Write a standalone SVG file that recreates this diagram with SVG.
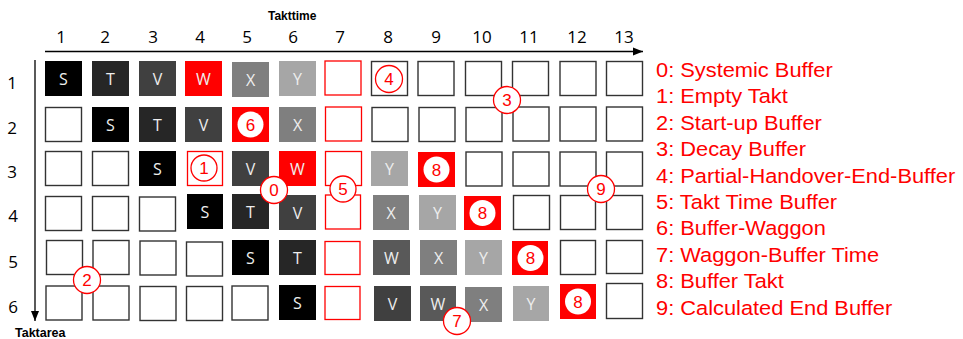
<svg xmlns="http://www.w3.org/2000/svg" width="963" height="339" viewBox="0 0 963 339">
<style>
.e{fill:#fff;stroke:#333;stroke-width:1.4}
.r{fill:#fff;stroke:#ff0000;stroke-width:1.3}
.rf{fill:#ff0000}
.S{fill:#000}.T{fill:#262626}.V{fill:#404040}.W{fill:#595959}.X{fill:#7f7f7f}.Y{fill:#a6a6a6}
.lt{font-family:"Open Sans","Liberation Sans",sans-serif;font-size:16px;fill:#eeeeee;text-anchor:middle}
.ax{font-family:"Open Sans","Liberation Sans",sans-serif;font-size:17px;fill:#000;text-anchor:middle}
.bold{font-family:"Liberation Sans",Arial,sans-serif;font-size:12px;font-weight:bold;fill:#000}
.ca{fill:#fff;stroke:#ff0000;stroke-width:1.3}
.cw{fill:#fff}
.cn{font-family:"Liberation Sans",Arial,sans-serif;font-size:17px;fill:#ff0000;text-anchor:middle}
.lg{font-family:"Liberation Sans",Arial,sans-serif;font-size:19.5px;fill:#ff0000}
</style>
<defs>
<marker id="ah" viewBox="0 0 10 10" refX="10" refY="5" markerWidth="10" markerHeight="10" markerUnits="userSpaceOnUse" orient="auto">
<path d="M0,1 L10,5 L0,9 Z" fill="#000"/>
</marker>
</defs>

<g id="axes">
<line x1="45" y1="51.5" x2="643" y2="51.5" stroke="#000" stroke-width="1.3" marker-end="url(#ah)"/>
<line x1="35" y1="60" x2="35" y2="321" stroke="#000" stroke-width="1.3" marker-end="url(#ah)"/>
<text class="bold" x="268" y="20">Takttime</text>
<text class="bold" x="15" y="336.5" style="font-size:12.5px">Taktarea</text>
</g>

<g id="col-labels">
<text class="ax" x="61" y="43">1</text>
<text class="ax" x="105" y="43">2</text>
<text class="ax" x="153" y="43">3</text>
<text class="ax" x="200" y="43">4</text>
<text class="ax" x="247" y="43">5</text>
<text class="ax" x="293" y="43">6</text>
<text class="ax" x="340" y="43">7</text>
<text class="ax" x="388" y="43">8</text>
<text class="ax" x="436" y="43">9</text>
<text class="ax" x="482" y="43">10</text>
<text class="ax" x="529" y="43">11</text>
<text class="ax" x="577" y="43">12</text>
<text class="ax" x="624" y="43">13</text>
</g>
<g id="row-labels">
<text class="ax" x="12" y="89">1</text>
<text class="ax" x="12" y="134">2</text>
<text class="ax" x="12" y="178">3</text>
<text class="ax" x="13" y="222">4</text>
<text class="ax" x="13" y="268">5</text>
<text class="ax" x="13" y="313">6</text>
</g>

<!-- Row 1 -->
<g id="r1c1"><rect class="S" x="45" y="61" width="37" height="35"/><text class="lt" x="63.5" y="84.5">S</text></g>
<g id="r1c2"><rect class="T" x="92" y="61" width="37" height="35"/><text class="lt" x="110.5" y="84.5">T</text></g>
<g id="r1c3"><rect class="V" x="139" y="61" width="37" height="35"/><text class="lt" x="157.5" y="84.5">V</text></g>
<g id="r1c4"><rect class="rf" x="185" y="61" width="37" height="35"/><text class="lt" x="203.5" y="84.5">W</text></g>
<g id="r1c5"><rect class="X" x="232" y="62" width="37" height="35"/><text class="lt" x="250.5" y="85.5">X</text></g>
<g id="r1c6"><rect class="Y" x="279" y="61" width="37" height="35"/><text class="lt" x="297.5" y="84.5">Y</text></g>
<g id="r1c7"><rect class="r" x="325" y="61" width="36" height="34"/></g>
<g id="r1c8"><rect class="e" x="371.5" y="61.5" width="36" height="34"/></g>
<g id="r1c9"><rect class="e" x="418" y="61.5" width="36" height="34"/></g>
<g id="r1c10"><rect class="e" x="465.5" y="61.5" width="36" height="34"/></g>
<g id="r1c11"><rect class="e" x="512.5" y="61.5" width="36" height="34"/></g>
<g id="r1c12"><rect class="e" x="560" y="61.5" width="36" height="34"/></g>
<g id="r1c13"><rect class="e" x="606.5" y="61.5" width="36" height="34"/></g>

<!-- Row 2 -->
<g id="r2c1"><rect class="e" x="45.5" y="107.5" width="36" height="34"/></g>
<g id="r2c2"><rect class="S" x="92" y="107" width="37" height="35"/><text class="lt" x="110.5" y="130.5">S</text></g>
<g id="r2c3"><rect class="T" x="139" y="107" width="37" height="35"/><text class="lt" x="157.5" y="130.5">T</text></g>
<g id="r2c4"><rect class="V" x="185" y="107" width="37" height="35"/><text class="lt" x="203.5" y="130.5">V</text></g>
<g id="r2c5"><rect class="rf" x="232" y="107" width="37" height="35"/><circle class="cw" cx="250.5" cy="124.5" r="13"/><text class="cn" x="250.5" y="130.5">6</text></g>
<g id="r2c6"><rect class="X" x="279" y="107" width="37" height="35"/><text class="lt" x="297.5" y="130.5">X</text></g>
<g id="r2c7"><rect class="r" x="325.5" y="107" width="36" height="34"/></g>
<g id="r2c8"><rect class="e" x="372" y="107.5" width="36" height="34"/></g>
<g id="r2c9"><rect class="e" x="419" y="107.5" width="36" height="34"/></g>
<g id="r2c10"><rect class="e" x="466" y="107.5" width="36" height="34"/></g>
<g id="r2c11"><rect class="e" x="513" y="107" width="36" height="34"/></g>
<g id="r2c12"><rect class="e" x="560" y="107" width="36" height="34"/></g>
<g id="r2c13"><rect class="e" x="606.5" y="107" width="36" height="34"/></g>

<!-- Row 3 -->
<g id="r3c1"><rect class="e" x="45.5" y="151.5" width="36" height="34"/></g>
<g id="r3c2"><rect class="e" x="92.5" y="151.5" width="36" height="34"/></g>
<g id="r3c3"><rect class="S" x="139" y="151" width="37" height="35"/><text class="lt" x="157.5" y="174.5">S</text></g>
<g id="r3c4"><rect class="r" x="187.5" y="151.5" width="35" height="34"/></g>
<g id="r3c5"><rect class="V" x="232" y="151" width="37" height="35"/><text class="lt" x="250.5" y="174.5">V</text></g>
<g id="r3c6"><rect class="rf" x="279" y="151" width="37" height="35"/><text class="lt" x="297.5" y="174.5">W</text></g>
<g id="r3c7"><rect class="r" x="325.5" y="151.5" width="36" height="34"/></g>
<g id="r3c8"><rect class="Y" x="371" y="151" width="37" height="35"/><text class="lt" x="389.5" y="174.5">Y</text></g>
<g id="r3c9"><rect class="rf" x="418" y="152" width="37" height="35"/><circle class="cw" cx="436.5" cy="169.5" r="13"/><text class="cn" x="436.5" y="175.5">8</text></g>
<g id="r3c10"><rect class="e" x="466" y="152" width="36" height="34"/></g>
<g id="r3c11"><rect class="e" x="513" y="152" width="36" height="34"/></g>
<g id="r3c12"><rect class="e" x="560" y="152" width="36" height="34"/></g>
<g id="r3c13"><rect class="e" x="606.5" y="152" width="36" height="34"/></g>

<!-- Row 4 -->
<g id="r4c1"><rect class="e" x="45.5" y="196.5" width="36" height="34"/></g>
<g id="r4c2"><rect class="e" x="92.5" y="196.5" width="36" height="34"/></g>
<g id="r4c3"><rect class="e" x="139.5" y="197" width="36" height="34"/></g>
<g id="r4c4"><rect class="S" x="187" y="194" width="36" height="35"/><text class="lt" x="205" y="217.5">S</text></g>
<g id="r4c5"><rect class="T" x="232" y="194" width="37" height="35"/><text class="lt" x="250.5" y="217.5">T</text></g>
<g id="r4c6"><rect class="V" x="279" y="195" width="37" height="35"/><text class="lt" x="297.5" y="218.5">V</text></g>
<g id="r4c7"><rect class="r" x="325.5" y="195" width="35" height="34"/></g>
<g id="r4c8"><rect class="X" x="373" y="195" width="36" height="35"/><text class="lt" x="391" y="218.5">X</text></g>
<g id="r4c9"><rect class="Y" x="419" y="195" width="37" height="35"/><text class="lt" x="437.5" y="218.5">Y</text></g>
<g id="r4c10"><rect class="rf" x="464" y="196" width="37" height="34"/><circle class="cw" cx="482.5" cy="213" r="13"/><text class="cn" x="482.5" y="219">8</text></g>
<g id="r4c11"><rect class="e" x="513.5" y="195.5" width="36" height="34"/></g>
<g id="r4c12"><rect class="e" x="560.5" y="195.5" width="35" height="34"/></g>
<g id="r4c13"><rect class="e" x="606.5" y="195.5" width="36" height="34"/></g>

<!-- Row 5 -->
<g id="r5c1"><rect class="e" x="46.5" y="240.5" width="36" height="34"/></g>
<g id="r5c2"><rect class="e" x="93" y="240.5" width="36" height="34"/></g>
<g id="r5c3"><rect class="e" x="140" y="241" width="36" height="34"/></g>
<g id="r5c4"><rect class="e" x="186.5" y="242" width="36" height="34"/></g>
<g id="r5c5"><rect class="S" x="232" y="240" width="37" height="35"/><text class="lt" x="250.5" y="263.5">S</text></g>
<g id="r5c6"><rect class="T" x="279" y="240" width="37" height="35"/><text class="lt" x="297.5" y="263.5">T</text></g>
<g id="r5c7"><rect class="r" x="325" y="241.5" width="35" height="33"/></g>
<g id="r5c8"><rect class="W" x="373" y="240" width="37" height="35"/><text class="lt" x="391.5" y="263.5">W</text></g>
<g id="r5c9"><rect class="X" x="420" y="240" width="37" height="35"/><text class="lt" x="438.5" y="263.5">X</text></g>
<g id="r5c10"><rect class="Y" x="465" y="240" width="37" height="35"/><text class="lt" x="483.5" y="263.5">Y</text></g>
<g id="r5c11"><rect class="rf" x="512" y="241" width="36" height="34"/><circle class="cw" cx="530.5" cy="258" r="13"/><text class="cn" x="530.5" y="264">8</text></g>
<g id="r5c12"><rect class="e" x="560.5" y="240.5" width="35" height="34"/></g>
<g id="r5c13"><rect class="e" x="606.5" y="240.5" width="36" height="33"/></g>

<!-- Row 6 -->
<g id="r6c1"><rect class="e" x="46" y="286" width="36" height="34"/></g>
<g id="r6c2"><rect class="e" x="93" y="286" width="36" height="34"/></g>
<g id="r6c3"><rect class="e" x="140" y="286.5" width="36" height="34"/></g>
<g id="r6c4"><rect class="e" x="186.5" y="286.5" width="36" height="34"/></g>
<g id="r6c5"><rect class="e" x="232" y="286" width="36" height="34"/></g>
<g id="r6c6"><rect class="S" x="279" y="285" width="37" height="35"/><text class="lt" x="297.5" y="308.5">S</text></g>
<g id="r6c7"><rect class="r" x="325" y="286.5" width="35" height="33"/></g>
<g id="r6c8"><rect class="V" x="374" y="286" width="37" height="35"/><text class="lt" x="392.5" y="309.5">V</text></g>
<g id="r6c9"><rect class="W" x="420" y="286" width="36" height="35"/><text class="lt" x="438" y="309.5">W</text></g>
<g id="r6c10"><rect class="X" x="465" y="287" width="37" height="35"/><text class="lt" x="483.5" y="310.5">X</text></g>
<g id="r6c11"><rect class="Y" x="513" y="286" width="36" height="35"/><text class="lt" x="531" y="309.5">Y</text></g>
<g id="r6c12"><rect class="rf" x="560" y="284" width="36" height="35"/><circle class="cw" cx="578" cy="301.5" r="13"/><text class="cn" x="578" y="307.5">8</text></g>
<g id="r6c13"><rect class="e" x="606.5" y="283.5" width="36" height="35"/></g>

<!-- Annotation markers -->
<g id="m0"><circle class="ca" cx="274" cy="190" r="13.5"/><text class="cn" x="274" y="196">0</text></g>
<g id="m1"><circle class="ca" cx="204" cy="168" r="13"/><text class="cn" x="204" y="174">1</text></g>
<g id="m2"><circle class="ca" cx="87" cy="280" r="13.5"/><text class="cn" x="87" y="286">2</text></g>
<g id="m3"><circle class="ca" cx="507" cy="100" r="13.5"/><text class="cn" x="507" y="106">3</text></g>
<g id="m4"><circle class="ca" cx="389" cy="79" r="13.5"/><text class="cn" x="389" y="85">4</text></g>
<g id="m5"><circle class="ca" cx="343" cy="189" r="13"/><text class="cn" x="343" y="195">5</text></g>
<g id="m7"><circle class="ca" cx="457" cy="321" r="13.5"/><text class="cn" x="457" y="327">7</text></g>
<g id="m9"><circle class="ca" cx="601" cy="189" r="13.5"/><text class="cn" x="601" y="195">9</text></g>

<g id="legend" transform="translate(656,0) scale(1.12,1)">
<text class="lg" x="0" y="77">0: Systemic Buffer</text>
<text class="lg" x="0" y="103.5">1: Empty Takt</text>
<text class="lg" x="0" y="130">2: Start-up Buffer</text>
<text class="lg" x="0" y="156.5">3: Decay Buffer</text>
<text class="lg" x="0" y="183">4: Partial-Handover-End-Buffer</text>
<text class="lg" x="0" y="209">5: Takt Time Buffer</text>
<text class="lg" x="0" y="235.5">6: Buffer-Waggon</text>
<text class="lg" x="0" y="262">7: Waggon-Buffer Time</text>
<text class="lg" x="0" y="288.5">8: Buffer Takt</text>
<text class="lg" x="0" y="315">9: Calculated End Buffer</text>
</g>
</svg>
